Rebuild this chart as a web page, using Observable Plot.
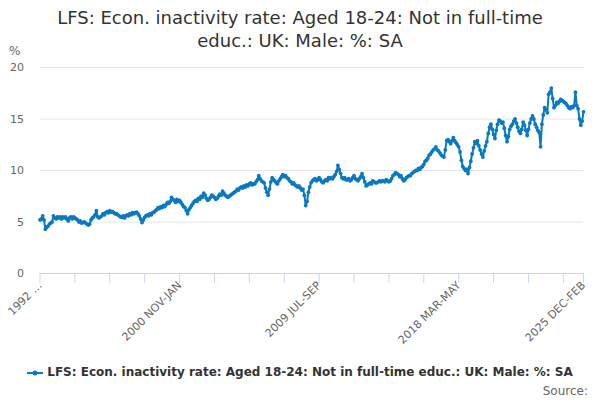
<!DOCTYPE html>
<html><head><meta charset="utf-8">
<script src="https://cdn.jsdelivr.net/npm/d3@7"></script>
<script src="https://cdn.jsdelivr.net/npm/@observablehq/plot@0.6"></script>
<style>
body{margin:0;background:#fff;font-family:"DejaVu Sans",sans-serif;}
#wrap{position:relative;width:600px;height:400px;overflow:hidden;background:#fff;}
#title{position:absolute;top:6px;left:0;width:600px;text-align:center;font-size:18px;color:#333;line-height:23px;}
#unit{position:absolute;left:9px;top:44px;font-size:12px;line-height:14px;color:#666;z-index:2;}
#chart{position:absolute;top:50px;left:0;z-index:1;}
#legend{position:absolute;top:365px;left:0;width:600px;text-align:center;font-size:12px;font-weight:bold;color:#333;white-space:nowrap;}
#legend svg{vertical-align:middle;margin-right:4px;}
#source{position:absolute;right:12px;top:384px;font-size:12px;color:#666;}
</style></head>
<body>
<div id="wrap">
  <div id="title">LFS: Econ. inactivity rate: Aged 18-24: Not in full-time<br>educ.: UK: Male: %: SA</div>
  <div id="chart"></div>
  <div id="unit">%</div>
  <div id="legend"><svg width="16" height="10"><line x1="0" y1="5" x2="16" y2="5" stroke="#0979c1" stroke-width="2"/><circle cx="8" cy="5" r="2.5" fill="#0979c1"/></svg>LFS: Econ. inactivity rate: Aged 18-24: Not in full-time educ.: UK: Male: %: SA</div>
  <div id="source">Source:</div>
</div>
<script>
// Period labels: rolling three-month periods, 1992 MAR-MAY .. 2025 DEC-FEB
const monthNames = ["JAN","FEB","MAR","APR","MAY","JUN","JUL","AUG","SEP","OCT","NOV","DEC"];
const startYear = 1992, startMonth = 2, periodCount = 406;
const categories = [];
for (let i = 0; i < periodCount; i++) {
  const m = startMonth + i;
  const y = startYear + Math.floor(m / 12);
  const mm = m % 12;
  categories.push(`${y} ${monthNames[mm]}-${monthNames[(mm + 2) % 12]}`);
}

// Values (%)
const values = [
  5.2, 5.3, 5.6, 5.2, 4.3, 4.5, 4.6, 4.8, 4.9, 5.0,
  5.6, 5.4, 5.3, 5.5, 5.4, 5.5, 5.3, 5.5, 5.4, 5.5,
  5.3, 5.1, 5.4, 5.5, 5.3, 5.5, 5.4, 5.3, 5.2, 5.0,
  5.1, 4.9, 4.95, 5.0, 4.9, 4.8, 4.7, 4.8, 5.2, 5.4,
  5.5, 5.7, 6.1, 5.5, 5.4, 5.5, 5.6, 5.8, 5.7, 5.9,
  6.0, 5.9, 6.1, 5.95, 6.0, 5.9, 5.8, 5.8, 5.7, 5.6,
  5.5, 5.45, 5.6, 5.4, 5.6, 5.7, 5.6, 5.8, 5.7, 5.9,
  5.8, 5.9, 5.95, 5.8, 5.6, 5.3, 4.95, 5.2, 5.45, 5.6,
  5.7, 5.6, 5.8, 5.7, 5.9, 5.95, 6.1, 6.2, 6.4, 6.3,
  6.5, 6.4, 6.6, 6.5, 6.7, 6.9, 6.8, 7.0, 7.4, 7.2,
  7.1, 6.9, 7.2, 7.0, 7.1, 6.9, 6.7, 6.5, 6.4, 6.1,
  5.8, 6.2, 6.4, 6.6, 6.8, 7.0, 7.1, 7.0, 7.3, 7.2,
  7.5, 7.4, 7.8, 7.6, 7.3, 7.1, 7.2, 7.4, 7.6, 7.5,
  7.4, 7.2, 7.3, 7.5, 7.7, 7.6, 8.0, 7.8, 7.6, 7.5,
  7.4, 7.5, 7.6, 7.7, 7.8, 7.9, 8.0, 8.2, 8.1, 8.3,
  8.4, 8.3, 8.5, 8.4, 8.6, 8.5, 8.7, 8.8, 8.6, 8.7,
  8.7, 8.9, 9.1, 9.5, 9.2, 9.0, 8.9, 8.8, 8.3, 7.9,
  7.6, 8.2, 8.9, 9.3, 9.1, 9.0, 8.8, 8.7, 9.0, 9.2,
  9.4, 9.6, 9.4, 9.5, 9.3, 9.2, 9.0, 8.9, 8.7, 8.8,
  8.6, 8.5, 8.4, 8.5, 8.3, 8.1, 8.2, 7.6, 6.6, 7.0,
  7.9, 8.4, 8.8, 9.0, 9.1, 9.2, 9.0, 9.1, 9.3, 9.1,
  8.9, 8.8, 9.0, 9.1, 9.0, 9.3, 9.2, 9.3, 9.2, 9.4,
  9.6, 9.9, 10.5, 10.1, 9.7, 9.3, 9.2, 9.3, 9.1, 9.1,
  9.2, 9.0, 9.1, 9.3, 9.5, 9.2, 9.1, 9.0, 9.2, 9.4,
  9.7, 9.3, 8.9, 8.5, 8.6, 8.7, 8.8, 8.7, 9.0, 8.9,
  8.8, 8.8, 8.9, 9.0, 8.9, 9.0, 9.0, 8.9, 9.1, 9.0,
  8.9, 9.0, 9.2, 9.5, 9.6, 9.8, 9.7, 9.6, 9.4, 9.5,
  9.2, 9.0, 9.1, 9.3, 9.4, 9.5, 9.5, 9.7, 9.8, 9.9,
  10.0, 10.0, 10.2, 10.1, 10.3, 10.4, 10.6, 10.9, 11.0, 11.2,
  11.5, 11.6, 11.8, 12.0, 12.1, 12.3, 12.0, 11.9, 11.7, 11.5,
  11.4, 11.3, 12.0, 12.9, 13.0, 12.8, 12.6, 12.9, 13.2, 12.9,
  12.7, 12.5, 12.3, 11.8, 11.0, 10.4, 10.2, 10.0, 10.1, 9.7,
  10.3, 10.9, 11.6, 12.2, 12.8, 12.6, 12.9, 12.4, 12.0, 11.6,
  11.3, 11.9, 12.4, 12.8, 13.6, 14.2, 14.5, 14.0, 13.5, 13.1,
  13.9, 14.5, 14.9, 14.8, 14.6, 14.7, 14.1, 13.4, 12.8, 13.3,
  14.0, 14.3, 14.5, 14.8, 15.0, 14.6, 14.2, 13.8, 13.6, 14.0,
  14.7, 14.4, 13.9, 13.4, 14.0, 14.6, 15.0, 15.3, 15.0, 14.5,
  14.2, 13.9, 13.7, 12.3, 14.5, 15.4, 16.1, 15.9, 15.6, 17.4,
  17.6, 18.0, 17.0, 16.1, 16.3, 16.6, 16.5, 16.7, 16.9, 16.8,
  16.7, 16.6, 16.5, 16.3, 16.1, 16.0, 16.2, 16.1, 16.3, 17.6,
  16.3, 16.0, 15.0, 14.4, 14.8, 15.7
];

const yTicks = [0, 5, 10, 15, 20];
const tickEvery = 26;
const labelPeriods = ["1992 MAR-MAY", "2000 NOV-JAN", "2009 JUL-SEP", "2018 MAR-MAY", "2025 DEC-FEB"];
const labelTexts = ["1992 …", "2000 NOV-JAN", "2009 JUL-SEP", "2018 MAR-MAY", "2025 DEC-FEB"];

const data = categories.map((c, i) => ({period: c, value: values[i]}));
const tickPeriods = categories.filter((c, i) => i % tickEvery === 0 || i === categories.length - 1);
const labelMap = new Map(labelPeriods.map((p, i) => [p, labelTexts[i]]));

const color = "#0979c1";
const chart = Plot.plot({
  width: 600,
  height: 300,
  marginTop: 17,
  marginLeft: 39.5,
  marginRight: 17,
  marginBottom: 77,
  style: {fontFamily: "DejaVu Sans, sans-serif", fontSize: "11px", background: "transparent"},
  x: {type: "point", domain: categories, padding: 0},
  y: {domain: [0, 20]},
  marks: [
    Plot.gridY(yTicks.filter(d => d > 0), {stroke: "#e6e6e6", strokeOpacity: 1}),
    Plot.axisY(yTicks, {tickSize: 0, tickPadding: 16, fill: "#666", label: null, fontSize: 11}),
    Plot.ruleY([0], {stroke: "#ccd6eb"}),
    Plot.axisX(tickPeriods, {tickSize: 10, tickFormat: () => "", stroke: "#ccd6eb", strokeOpacity: 1, label: null}),
    Plot.axisX(labelPeriods, {tickSize: 0, tickPadding: 10, tickRotate: -45, tickFormat: d => labelMap.get(d), fill: "#666", label: null, fontSize: 11}),
    Plot.line(data, {x: "period", y: "value", stroke: color, strokeWidth: 2}),
    Plot.dot(data, {x: "period", y: "value", fill: color, r: 1.9, stroke: null})
  ]
});
document.getElementById("chart").appendChild(chart);
</script>
</body></html>
